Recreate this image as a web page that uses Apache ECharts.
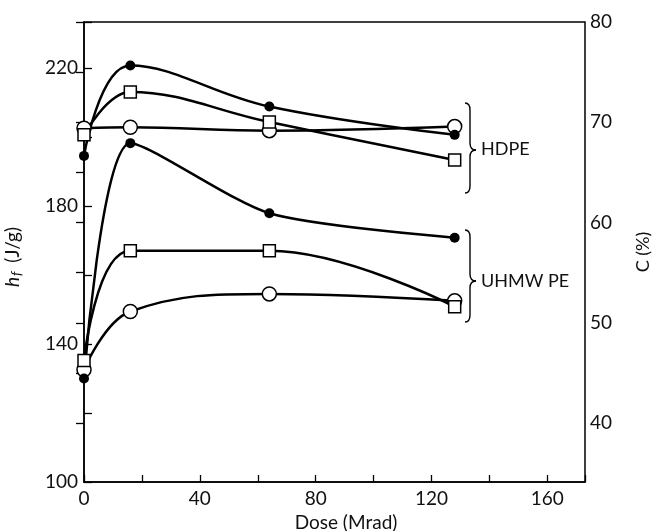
<!DOCTYPE html>
<html>
<head>
<meta charset="utf-8">
<script src="https://cdn.jsdelivr.net/npm/echarts@6/dist/echarts.min.js"></script>
<style>
  html, body { margin: 0; padding: 0; background: #fff; }
  #chart { width: 653px; height: 531px; }
</style>
</head>
<body>
<div id="chart"></div>
<script>
// dose points (Mrad)
var dose = [0, 16, 64, 128];

// heat of fusion h_f (J/g)
var hdpeFilled  = [194.5, 220.7, 208.8, 200.6];
var hdpeSquare  = [200.6, 213.0, 204.3, 193.3];
var hdpeOpen    = [202.5, 202.8, 201.8, 203.0];
var uhmwFilled  = [130.0, 198.2, 177.9, 170.8];
var uhmwSquare  = [135.2, 167.0, 167.0, 150.8];
var uhmwOpen    = [132.5, 149.4, 154.5, 152.5];

var groupLabels = ['HDPE', 'UHMW PE'];

var FONT = 'Lato';

function pairs(ys) {
  return dose.map(function (d, i) { return [d, ys[i]]; });
}

// filled dot, open square, open circle
function mkSeries(ys, kind, smooth) {
  var s = {
    type: 'line',
    data: pairs(ys),
    smooth: smooth || 0.4,
    xAxisIndex: 0,
    yAxisIndex: 0,
    lineStyle: { color: '#000', width: 2.5 },
    showAllSymbol: true,
    animation: false,
    z: 3
  };
  if (kind === 'filled') {
    s.symbol = 'circle';
    s.symbolSize = 10;
    s.itemStyle = { color: '#000', borderColor: '#000', borderWidth: 0 };
  } else if (kind === 'square') {
    s.symbol = 'rect';
    s.symbolSize = 12;
    s.itemStyle = { color: '#fff', borderColor: '#000', borderWidth: 1.5 };
  } else {
    s.symbol = 'circle';
    s.symbolSize = 14;
    s.itemStyle = { color: '#fff', borderColor: '#000', borderWidth: 1.5 };
  }
  return s;
}

// curly brace "}" made of bezier pieces
function brace(x, top, mid, bot) {
  var st = { stroke: '#000', lineWidth: 1.4, fill: null };
  var w = 5, r = 7;
  return [
    { type: 'bezierCurve', shape: { x1: x - w, y1: top, cpx1: x, cpy1: top, x2: x, y2: top + r }, style: st },
    { type: 'line', shape: { x1: x, y1: top + r, x2: x, y2: mid - r }, style: st },
    { type: 'bezierCurve', shape: { x1: x, y1: mid - r, cpx1: x, cpy1: mid, x2: x + 6, y2: mid }, style: st },
    { type: 'bezierCurve', shape: { x1: x + 6, y1: mid, cpx1: x, cpy1: mid, x2: x, y2: mid + r }, style: st },
    { type: 'line', shape: { x1: x, y1: mid + r, x2: x, y2: bot - r }, style: st },
    { type: 'bezierCurve', shape: { x1: x, y1: bot - r, cpx1: x, cpy1: bot, x2: x - w, y2: bot }, style: st }
  ];
}

var chart = echarts.init(document.getElementById('chart'));

var labelStyle = { color: '#111', fontFamily: FONT, fontSize: 19 };

var graphics = brace(470, 103, 150, 193).concat(brace(470, 230, 281, 322)).concat([
  {
    type: 'text', x: 481, y: 149,
    style: { text: groupLabels[0], fill: '#111', font: '18px ' + FONT, verticalAlign: 'middle' }
  },
  {
    type: 'text', x: 481, y: 281,
    style: { text: groupLabels[1], fill: '#111', font: '18px ' + FONT, verticalAlign: 'middle' }
  },
  {
    type: 'text', x: 643, y: 252, rotation: Math.PI / 2,
    style: { text: 'C (%)', fill: '#111', font: '18px ' + FONT, align: 'center', verticalAlign: 'middle' }
  }
]);

var option = {
  backgroundColor: '#fff',
  animation: false,
  grid: [
    { left: 84, right: 68, top: 22, bottom: 49, show: true, borderColor: '#000', borderWidth: 1.5, backgroundColor: 'transparent', containLabel: false, outerBoundsMode: 'none' },
    { left: 84, right: 68, top: 22, bottom: 108, show: false, containLabel: false, outerBoundsMode: 'none' }
  ],
  xAxis: [
    {
      type: 'value', gridIndex: 0, min: 0, max: 173, interval: 20,
      name: 'Dose (Mrad)', nameLocation: 'middle', nameGap: 30,
      nameTextStyle: { color: '#111', fontFamily: FONT, fontSize: 19, padding: [0, 0, 0, 23] },
      axisLine: { show: true, lineStyle: { color: '#000', width: 1.5 } },
      axisTick: { show: true, inside: true, length: 7, lineStyle: { color: '#000', width: 1.3 } },
      splitLine: { show: false },
      axisLabel: Object.assign({ margin: 7, formatter: function (v) { return (v % 40 === 0) ? String(v) : ''; } }, labelStyle)
    },
    {
      type: 'value', gridIndex: 1, min: 0, max: 173, show: false
    }
  ],
  yAxis: [
    {
      type: 'value', gridIndex: 0, position: 'left', min: 100, max: 233.3, interval: 20,
      name: '{i|h}{s|f} (J/g)', nameLocation: 'middle', nameGap: 61, nameRotate: 90,
      nameTextStyle: {
        color: '#111', fontFamily: FONT, fontSize: 19, padding: [0, 10, 0, 0],
        rich: {
          i: { fontFamily: FONT, fontSize: 19, fontStyle: 'italic', color: '#111' },
          s: { fontFamily: FONT, fontSize: 14, fontStyle: 'italic', color: '#111', verticalAlign: 'bottom', padding: [6, 4, 0, 1] }
        }
      },
      axisLine: { show: true, lineStyle: { color: '#000', width: 1.5 } },
      axisTick: { show: true, inside: true, length: 8, lineStyle: { color: '#000', width: 1.3 } },
      splitLine: { show: false },
      axisLabel: Object.assign({ margin: 6, formatter: function (v) { return ((v - 100) % 40 === 0) ? String(v) : ''; } }, labelStyle)
    },
    {
      // crystallinity C (%) scale on the right
      type: 'value', gridIndex: 1, position: 'right', min: 40, max: 80, interval: 5,
      axisLine: { show: false },
      axisTick: { show: true, inside: true, length: 8, lineStyle: { color: '#000', width: 1.3 } },
      splitLine: { show: false },
      axisLabel: Object.assign({ margin: 5, formatter: function (v) { return (v % 10 === 0) ? String(v) : ''; } }, labelStyle)
    }
  ],
  series: [
    mkSeries(hdpeOpen, 'open'),
    mkSeries(hdpeSquare, 'square'),
    mkSeries(hdpeFilled, 'filled'),
    mkSeries(uhmwOpen, 'open'),
    mkSeries(uhmwSquare, 'square'),
    mkSeries(uhmwFilled, 'filled', 0.25)
  ],
  graphic: graphics
};

chart.setOption(option);
</script>
</body>
</html>
